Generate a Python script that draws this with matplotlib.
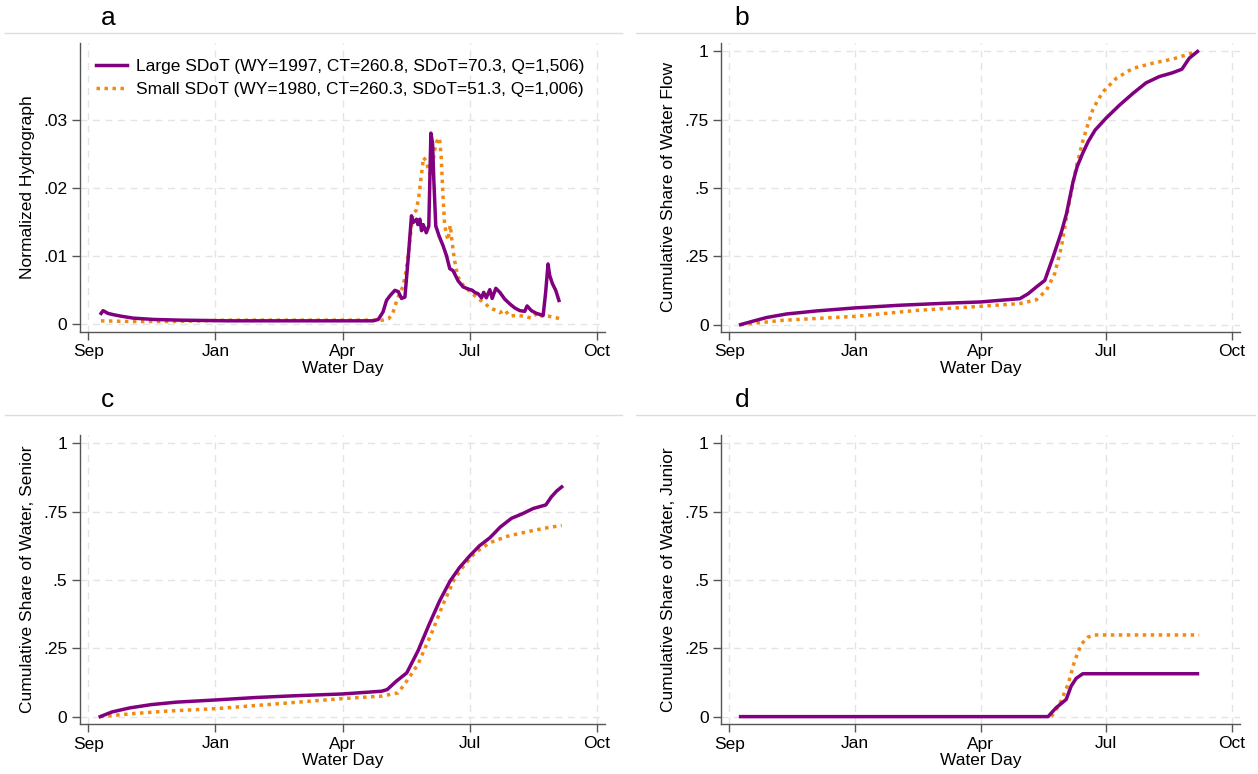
"""Four-panel water day figure: hydrograph and cumulative shares, large vs small SDoT years."""

import matplotlib
matplotlib.use("Agg")
import matplotlib.pyplot as plt
from matplotlib.lines import Line2D

plt.rcParams["font.family"] = ["Liberation Sans", "DejaVu Sans"]

PURPLE = "#800080"
ORANGE = "#f08a12"
GRID = "#e4e4e4"
SPINE = "#555555"

MONTH_TICKS = [0, 91, 182, 273, 364]
MONTH_LABELS = ["Sep", "Jan", "Apr", "Jul", "Oct"]

LABEL_LARGE = "Large SDoT (WY=1997, CT=260.8, SDoT=70.3, Q=1,506)"
LABEL_SMALL = "Small SDoT (WY=1980, CT=260.3, SDoT=51.3, Q=1,006)"

# panel a: normalized hydrograph
hydro_large_day = [9.1, 10.5, 14, 18, 23, 32, 47, 66, 100, 150, 204, 207.6, 211, 213.5,
                   216, 219.5, 222, 224.3, 226.7, 229, 231.4, 232.6, 235, 236, 237.4,
                   238.6, 239.8, 242, 243.8, 245.3, 246.5, 247.4, 248.8, 251.2, 254,
                   256.5, 258.8, 261.2, 264.8, 268.4, 272, 275, 276.7, 279.1, 281.6,
                   283.1, 285, 287.5, 289.2, 291.8, 294.7, 298.2, 301.8, 305.4, 309,
                   312.5, 314.2, 317.3, 320.9, 325.7, 327.5, 329.2, 330.4, 332.3,
                   334.7, 337]
hydro_large = [.0015, .0019, .0015, .0013, .0011, .0008, .0006, .0005, .0004, .0004,
               .0004, .0006, .0017, .0034, .0041, .0049, .0047, .0037, .0039, .0095,
               .0159, .0149, .0154, .0146, .0154, .0137, .0146, .0134, .0144, .0281,
               .0266, .0212, .0144, .0129, .0115, .0100, .0081, .0078, .0063, .0054,
               .0051, .0049, .0046, .0044, .0038, .0046, .0038, .0050, .0037, .0052,
               .0046, .0036, .0029, .0023, .0019, .0018, .0026, .0019, .0015, .0012,
               .0046, .0088, .0071, .0059, .0049, .0034]
hydro_small_day = [9, 30, 60, 100, 150, 200, 211, 215, 218, 220.7, 223, 225.4, 227.7,
                   230, 232.4, 234.8, 236.6, 238.3, 240, 241.9, 243.8, 245.5, 247.9,
                   249.6, 251.5, 252.7, 253.9, 255.1, 256.3, 257.5, 259.2, 260.6,
                   262.2, 264.6, 268.2, 271.8, 275.6, 280.4, 283.9, 287.5, 291.1,
                   294.7, 298.2, 301.8, 306.6, 311.3, 317.3, 322.1, 324.5, 329.2,
                   334, 338.1]
hydro_small = [.0004, .0003, .0003, .0005, .0005, .0005, .0005, .0007, .0015, .0033,
               .0045, .0055, .0079, .0118, .0162, .0167, .0186, .0216, .0245, .0240,
               .0225, .0216, .0255, .0269, .0274, .0245, .0191, .0147, .0133, .0123,
               .0145, .0118, .0094, .0069, .0057, .0050, .0043, .0035, .0030, .0023,
               .0020, .0016, .0020, .0011, .0012, .0011, .0008, .0016, .0011, .0011,
               .0009, .0007]

# panel b: cumulative share of water flow
flow_large_day = [8.2, 17.4, 27, 41.5, 63, 90.5, 123.6, 159.8, 182, 210.5, 216.5, 222.5,
                  228.6, 234.6, 240.6, 244.3, 249, 252, 256, 260, 265, 273, 282.6,
                  292.3, 301.9, 311.5, 321.1, 327.9, 333.2, 339.2]
flow_large = [0, .013, .026, .039, .050, .061, .071, .079, .083, .095, .113, .138, .162,
              .248, .339, .406, .522, .578, .627, .670, .712, .756, .803, .846, .885,
              .908, .922, .935, .975, 1.0]
flow_small_day = [8.2, 39, 90.5, 135.7, 182, 210.5, 222.5, 229.8, 235.8, 240.6, 244.3,
                  249, 251.3, 256, 259, 263.5, 270.6, 280.2, 292.3, 306.7, 321.1, 339.2]
flow_small = [0, .016, .030, .052, .067, .077, .091, .126, .187, .284, .394, .516, .575,
              .670, .720, .790, .852, .901, .938, .957, .972, 1.0]

# panel c: cumulative share of water, senior
senior_large_day = [8.5, 16.8, 29.7, 45, 63, 91, 120, 146, 182, 210, 214, 220.6, 228,
                    236, 244, 251.5, 259, 265.7, 273, 280, 287.6, 295, 303, 311, 318.6,
                    327.6, 331.5, 335.4, 339]
senior_large = [0, .017, .032, .044, .053, .061, .070, .076, .083, .093, .099, .130,
                .160, .240, .337, .423, .496, .545, .588, .625, .655, .694, .726, .743,
                .762, .775, .804, .826, .841]
senior_small_day = [8.5, 29.7, 55.5, 91, 133, 182, 210, 221.8, 228, 236, 246.4, 254,
                    262, 269.5, 277, 287.6, 300.5, 313.5, 326, 339]
senior_small = [0, .010, .020, .029, .046, .066, .075, .087, .130, .191, .313, .411,
                .502, .557, .600, .637, .661, .676, .689, .700]

# panel d: cumulative share of water, junior
junior_large_day = [8.2, 230.9, 236.9, 244.1, 247.7, 251.3, 256.1, 339.2]
junior_large = [0, 0, .033, .063, .112, .140, .157, .157]
junior_small_day = [233.3, 239.3, 245.4, 250.2, 255, 259.8, 264.6, 340.4]
junior_small = [0, .045, .118, .204, .265, .291, .299, .299]

FIG_W, FIG_H = 1258, 774


def px_rect(left, top, right, bottom):
    return [left / FIG_W, 1 - bottom / FIG_H, (right - left) / FIG_W, (bottom - top) / FIG_H]


def style_axes(ax, ylim, yticks, ylabels, ylabel):
    ax.set_xlim(-6, 370)
    ax.set_ylim(*ylim)
    ax.set_xticks(MONTH_TICKS, MONTH_LABELS)
    ax.set_yticks(yticks, ylabels)
    ax.grid(True, color=GRID, lw=1.0, ls=(0, (5, 4)))
    ax.set_axisbelow(True)
    for side in ("top", "right"):
        ax.spines[side].set_visible(False)
    for side in ("left", "bottom"):
        ax.spines[side].set_color(SPINE)
        ax.spines[side].set_linewidth(1.0)
    ax.tick_params(length=6, width=1.0, color=SPINE, labelsize=12.5, pad=3)
    ax.set_xlabel("Water Day", fontsize=12.5, labelpad=1)
    ax.set_ylabel(ylabel, fontsize=12.5, labelpad=6)


def draw_pair(ax, xl, yl, xs, ys):
    ax.plot(xl, yl, color=PURPLE, lw=2.5, solid_joinstyle="round", zorder=3)
    ax.plot(xs, ys, color=ORANGE, lw=2.5, ls=(0, (1, 1.3)), zorder=2)


fig = plt.figure(figsize=(FIG_W / 100, FIG_H / 100), dpi=100)

# panel header bands: letter plus thin rule
for letter, lx, ly, x0, x1 in [("a", 108, 18, 5, 622), ("b", 742, 18, 636, 1255),
                               ("c", 108, 400, 5, 622), ("d", 742, 400, 636, 1255)]:
    fig.text(lx / FIG_W, 1 - ly / FIG_H, letter, fontsize=19, ha="center", va="center")
    rule_y = 1 - (ly + 15) / FIG_H
    fig.add_artist(Line2D([x0 / FIG_W, x1 / FIG_W], [rule_y, rule_y],
                          color="#dcdcdc", lw=1.0))

frac_ticks = [0, .25, .5, .75, 1]
frac_labels = ["0", ".25", ".5", ".75", "1"]

ax_a = fig.add_axes(px_rect(80, 43, 605, 332))
draw_pair(ax_a, hydro_large_day, hydro_large, hydro_small_day, hydro_small)
style_axes(ax_a, (-0.00125, 0.0414), [0, .01, .02, .03], ["0", ".01", ".02", ".03"],
           "Normalized Hydrograph")
ax_a.legend(handles=[Line2D([], [], color=PURPLE, lw=2.5),
                     Line2D([], [], color=ORANGE, lw=2.5, ls=(0, (1, 1.3)))],
            labels=[LABEL_LARGE, LABEL_SMALL], loc="upper left", frameon=False,
            fontsize=12.5, handlelength=1.8, handletextpad=0.5, labelspacing=0.45,
            borderaxespad=0.2, bbox_to_anchor=(0.01, 0.98))

ax_b = fig.add_axes(px_rect(721, 43, 1240, 332))
draw_pair(ax_b, flow_large_day, flow_large, flow_small_day, flow_small)
style_axes(ax_b, (-0.027, 1.031), frac_ticks, frac_labels, "Cumulative Share of Water Flow")

ax_c = fig.add_axes(px_rect(80, 435, 605, 724))
draw_pair(ax_c, senior_large_day, senior_large, senior_small_day, senior_small)
style_axes(ax_c, (-0.027, 1.031), frac_ticks, frac_labels, "Cumulative Share of Water, Senior")

ax_d = fig.add_axes(px_rect(721, 435, 1240, 724))
draw_pair(ax_d, junior_large_day, junior_large, junior_small_day, junior_small)
style_axes(ax_d, (-0.027, 1.031), frac_ticks, frac_labels, "Cumulative Share of Water, Junior")

fig.savefig("out.png", dpi=100, facecolor="white")
